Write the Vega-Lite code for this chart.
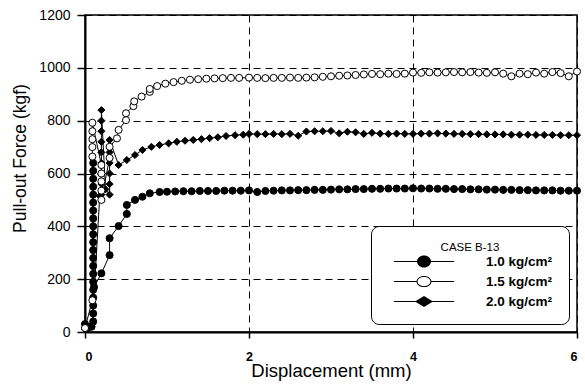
{
"$schema": "https://vega.github.io/schema/vega-lite/v6.json",
"width": 492, "height": 317,
"autosize": {"type": "none"},
"padding": {"left": 85, "top": 15, "right": 8, "bottom": 54},
"background": "white",
"config": {
  "view": {"stroke": "black", "strokeWidth": 1.5},
  "font": "Liberation Sans",
  "axis": {"domainColor": "black", "tickColor": "black", "labelColor": "black", "titleColor": "black", "gridColor": "black", "gridDash": [7, 5], "gridWidth": 1, "gridOpacity": 1, "titleFontWeight": "normal", "titleFont": "Liberation Sans", "labelFont": "Liberation Sans"}
},
"data": {"values": [
{"s":"1.0","i":1,"x":0,"y":30},{"s":"1.0","i":2,"x":0.03,"y":15},{"s":"1.0","i":3,"x":0.08,"y":20},
{"s":"1.0","i":4,"x":0.1,"y":40},{"s":"1.0","i":5,"x":0.1,"y":70},{"s":"1.0","i":6,"x":0.1,"y":100},{"s":"1.0","i":7,"x":0.1,"y":130},{"s":"1.0","i":8,"x":0.1,"y":160},{"s":"1.0","i":9,"x":0.1,"y":190},{"s":"1.0","i":10,"x":0.1,"y":220},{"s":"1.0","i":11,"x":0.1,"y":250},{"s":"1.0","i":12,"x":0.1,"y":280},{"s":"1.0","i":13,"x":0.1,"y":310},{"s":"1.0","i":14,"x":0.1,"y":340},{"s":"1.0","i":15,"x":0.1,"y":370},{"s":"1.0","i":16,"x":0.1,"y":400},{"s":"1.0","i":17,"x":0.1,"y":430},{"s":"1.0","i":18,"x":0.1,"y":460},{"s":"1.0","i":19,"x":0.1,"y":490},{"s":"1.0","i":20,"x":0.1,"y":520},{"s":"1.0","i":21,"x":0.1,"y":550},{"s":"1.0","i":22,"x":0.1,"y":580},{"s":"1.0","i":23,"x":0.1,"y":610},{"s":"1.0","i":24,"x":0.1,"y":640},
{"s":"1.0","i":25,"x":0.11,"y":170},{"s":"1.0","i":26,"x":0.2,"y":222},{"s":"1.0","i":27,"x":0.3,"y":291},{"s":"1.0","i":28,"x":0.3,"y":355},{"s":"1.0","i":29,"x":0.41,"y":401},{"s":"1.0","i":30,"x":0.51,"y":447},{"s":"1.0","i":31,"x":0.51,"y":481},{"s":"1.0","i":32,"x":0.61,"y":500},{"s":"1.0","i":33,"x":0.7,"y":512},{"s":"1.0","i":34,"x":0.79,"y":525},{"s":"1.0","i":35,"x":0.91,"y":530},
{"s":"1.0","i":36,"x":1.0,"y":531},{"s":"1.0","i":37,"x":1.1,"y":532},{"s":"1.0","i":38,"x":1.2,"y":533},{"s":"1.0","i":39,"x":1.3,"y":533},{"s":"1.0","i":40,"x":1.4,"y":534},{"s":"1.0","i":41,"x":1.5,"y":534},{"s":"1.0","i":42,"x":1.6,"y":534},{"s":"1.0","i":43,"x":1.7,"y":535},{"s":"1.0","i":44,"x":1.8,"y":535},{"s":"1.0","i":45,"x":1.9,"y":535},{"s":"1.0","i":46,"x":2.0,"y":536},{"s":"1.0","i":47,"x":2.1,"y":530},{"s":"1.0","i":48,"x":2.2,"y":534},{"s":"1.0","i":49,"x":2.3,"y":535},{"s":"1.0","i":50,"x":2.4,"y":536},{"s":"1.0","i":51,"x":2.5,"y":536},{"s":"1.0","i":52,"x":2.6,"y":537},{"s":"1.0","i":53,"x":2.7,"y":537},{"s":"1.0","i":54,"x":2.8,"y":538},{"s":"1.0","i":55,"x":2.9,"y":538},{"s":"1.0","i":56,"x":3.0,"y":539},{"s":"1.0","i":57,"x":3.1,"y":540},{"s":"1.0","i":58,"x":3.2,"y":540},{"s":"1.0","i":59,"x":3.3,"y":541},{"s":"1.0","i":60,"x":3.4,"y":541},{"s":"1.0","i":61,"x":3.5,"y":542},{"s":"1.0","i":62,"x":3.6,"y":542},{"s":"1.0","i":63,"x":3.7,"y":543},{"s":"1.0","i":64,"x":3.8,"y":543},{"s":"1.0","i":65,"x":3.9,"y":543},{"s":"1.0","i":66,"x":4.0,"y":544},{"s":"1.0","i":67,"x":4.1,"y":543},{"s":"1.0","i":68,"x":4.2,"y":543},{"s":"1.0","i":69,"x":4.3,"y":542},{"s":"1.0","i":70,"x":4.4,"y":542},{"s":"1.0","i":71,"x":4.5,"y":541},{"s":"1.0","i":72,"x":4.6,"y":541},{"s":"1.0","i":73,"x":4.7,"y":540},{"s":"1.0","i":74,"x":4.8,"y":540},{"s":"1.0","i":75,"x":4.9,"y":539},{"s":"1.0","i":76,"x":5.0,"y":539},{"s":"1.0","i":77,"x":5.1,"y":538},{"s":"1.0","i":78,"x":5.2,"y":538},{"s":"1.0","i":79,"x":5.3,"y":537},{"s":"1.0","i":80,"x":5.4,"y":537},{"s":"1.0","i":81,"x":5.5,"y":536},{"s":"1.0","i":82,"x":5.6,"y":536},{"s":"1.0","i":83,"x":5.7,"y":536},{"s":"1.0","i":84,"x":5.8,"y":535},{"s":"1.0","i":85,"x":5.9,"y":535},{"s":"1.0","i":86,"x":6.0,"y":535},

{"s":"1.5","i":1,"x":0,"y":15},{"s":"1.5","i":2,"x":0.09,"y":120},{"s":"1.5","i":3,"x":0.09,"y":664},{"s":"1.5","i":4,"x":0.09,"y":700},{"s":"1.5","i":5,"x":0.09,"y":730},{"s":"1.5","i":6,"x":0.09,"y":760},{"s":"1.5","i":7,"x":0.09,"y":792},
{"s":"1.5","i":8,"x":0.2,"y":632},{"s":"1.5","i":9,"x":0.2,"y":600},{"s":"1.5","i":10,"x":0.2,"y":570},{"s":"1.5","i":11,"x":0.2,"y":535},{"s":"1.5","i":12,"x":0.2,"y":500},
{"s":"1.5","i":13,"x":0.3,"y":659},{"s":"1.5","i":14,"x":0.3,"y":701},{"s":"1.5","i":15,"x":0.39,"y":733},{"s":"1.5","i":16,"x":0.41,"y":765},{"s":"1.5","i":17,"x":0.5,"y":802},{"s":"1.5","i":18,"x":0.5,"y":828},{"s":"1.5","i":19,"x":0.59,"y":855},{"s":"1.5","i":20,"x":0.6,"y":873},{"s":"1.5","i":21,"x":0.69,"y":891},{"s":"1.5","i":22,"x":0.79,"y":909},{"s":"1.5","i":23,"x":0.79,"y":920},{"s":"1.5","i":24,"x":0.88,"y":931},{"s":"1.5","i":25,"x":0.98,"y":940},{"s":"1.5","i":26,"x":1.08,"y":946},{"s":"1.5","i":27,"x":1.18,"y":951},{"s":"1.5","i":28,"x":1.28,"y":955},{"s":"1.5","i":29,"x":1.38,"y":957},{"s":"1.5","i":30,"x":1.48,"y":959},{"s":"1.5","i":31,"x":1.58,"y":960},{"s":"1.5","i":32,"x":1.68,"y":961},{"s":"1.5","i":33,"x":1.78,"y":962},{"s":"1.5","i":34,"x":1.88,"y":962},
{"s":"1.5","i":35,"x":2.0,"y":963},{"s":"1.5","i":36,"x":2.1,"y":962},{"s":"1.5","i":37,"x":2.2,"y":961},{"s":"1.5","i":38,"x":2.3,"y":962},{"s":"1.5","i":39,"x":2.4,"y":962},{"s":"1.5","i":40,"x":2.5,"y":963},{"s":"1.5","i":41,"x":2.6,"y":962},{"s":"1.5","i":42,"x":2.7,"y":963},{"s":"1.5","i":43,"x":2.8,"y":964},{"s":"1.5","i":44,"x":2.9,"y":966},{"s":"1.5","i":45,"x":3.0,"y":968},{"s":"1.5","i":46,"x":3.1,"y":970},{"s":"1.5","i":47,"x":3.2,"y":971},{"s":"1.5","i":48,"x":3.3,"y":973},{"s":"1.5","i":49,"x":3.4,"y":975},{"s":"1.5","i":50,"x":3.5,"y":977},{"s":"1.5","i":51,"x":3.6,"y":976},{"s":"1.5","i":52,"x":3.7,"y":978},{"s":"1.5","i":53,"x":3.8,"y":977},{"s":"1.5","i":54,"x":3.9,"y":978},{"s":"1.5","i":55,"x":4.0,"y":982},{"s":"1.5","i":56,"x":4.1,"y":981},{"s":"1.5","i":57,"x":4.2,"y":983},{"s":"1.5","i":58,"x":4.3,"y":982},{"s":"1.5","i":59,"x":4.4,"y":983},{"s":"1.5","i":60,"x":4.5,"y":984},{"s":"1.5","i":61,"x":4.6,"y":983},{"s":"1.5","i":62,"x":4.7,"y":984},{"s":"1.5","i":63,"x":4.8,"y":982},{"s":"1.5","i":64,"x":4.9,"y":981},{"s":"1.5","i":65,"x":5.0,"y":983},{"s":"1.5","i":66,"x":5.1,"y":978},{"s":"1.5","i":67,"x":5.2,"y":968},{"s":"1.5","i":68,"x":5.3,"y":978},{"s":"1.5","i":69,"x":5.4,"y":976},{"s":"1.5","i":70,"x":5.5,"y":982},{"s":"1.5","i":71,"x":5.6,"y":978},{"s":"1.5","i":72,"x":5.7,"y":984},{"s":"1.5","i":73,"x":5.8,"y":980},{"s":"1.5","i":74,"x":5.9,"y":968},{"s":"1.5","i":75,"x":6.0,"y":986},

{"s":"2.0","i":1,"x":0,"y":10},{"s":"2.0","i":2,"x":0.09,"y":30},{"s":"2.0","i":3,"x":0.18,"y":515},
{"s":"2.0","i":4,"x":0.2,"y":520},{"s":"2.0","i":5,"x":0.2,"y":560},{"s":"2.0","i":6,"x":0.2,"y":600},{"s":"2.0","i":7,"x":0.2,"y":640},{"s":"2.0","i":8,"x":0.2,"y":680},{"s":"2.0","i":9,"x":0.2,"y":720},{"s":"2.0","i":10,"x":0.2,"y":760},{"s":"2.0","i":11,"x":0.2,"y":800},{"s":"2.0","i":12,"x":0.2,"y":840},
{"s":"2.0","i":13,"x":0.25,"y":540},
{"s":"2.0","i":14,"x":0.3,"y":520},{"s":"2.0","i":15,"x":0.3,"y":560},{"s":"2.0","i":16,"x":0.3,"y":600},{"s":"2.0","i":17,"x":0.3,"y":640},{"s":"2.0","i":18,"x":0.3,"y":680},{"s":"2.0","i":19,"x":0.3,"y":727},
{"s":"2.0","i":20,"x":0.41,"y":632},{"s":"2.0","i":21,"x":0.51,"y":651},{"s":"2.0","i":22,"x":0.61,"y":670},{"s":"2.0","i":23,"x":0.7,"y":689},{"s":"2.0","i":24,"x":0.81,"y":701},{"s":"2.0","i":25,"x":0.91,"y":708},{"s":"2.0","i":26,"x":1.02,"y":714},{"s":"2.0","i":27,"x":1.12,"y":720},{"s":"2.0","i":28,"x":1.22,"y":724},{"s":"2.0","i":29,"x":1.32,"y":727},{"s":"2.0","i":30,"x":1.42,"y":730},{"s":"2.0","i":31,"x":1.52,"y":734},{"s":"2.0","i":32,"x":1.62,"y":737},{"s":"2.0","i":33,"x":1.72,"y":742},{"s":"2.0","i":34,"x":1.83,"y":745},{"s":"2.0","i":35,"x":1.93,"y":747},
{"s":"2.0","i":36,"x":2.0,"y":750},{"s":"2.0","i":37,"x":2.1,"y":749},{"s":"2.0","i":38,"x":2.2,"y":749},{"s":"2.0","i":39,"x":2.3,"y":750},{"s":"2.0","i":40,"x":2.4,"y":749},{"s":"2.0","i":41,"x":2.5,"y":750},{"s":"2.0","i":42,"x":2.6,"y":743},{"s":"2.0","i":43,"x":2.7,"y":759},{"s":"2.0","i":44,"x":2.8,"y":760},{"s":"2.0","i":45,"x":2.9,"y":760},{"s":"2.0","i":46,"x":3.0,"y":761},{"s":"2.0","i":47,"x":3.1,"y":752},{"s":"2.0","i":48,"x":3.2,"y":758},{"s":"2.0","i":49,"x":3.3,"y":756},{"s":"2.0","i":50,"x":3.4,"y":750},{"s":"2.0","i":51,"x":3.5,"y":754},{"s":"2.0","i":52,"x":3.6,"y":751},{"s":"2.0","i":53,"x":3.7,"y":750},{"s":"2.0","i":54,"x":3.8,"y":751},{"s":"2.0","i":55,"x":3.9,"y":750},{"s":"2.0","i":56,"x":4.0,"y":750},{"s":"2.0","i":57,"x":4.1,"y":751},{"s":"2.0","i":58,"x":4.2,"y":751},{"s":"2.0","i":59,"x":4.3,"y":752},{"s":"2.0","i":60,"x":4.4,"y":751},{"s":"2.0","i":61,"x":4.5,"y":750},{"s":"2.0","i":62,"x":4.6,"y":750},{"s":"2.0","i":63,"x":4.7,"y":749},{"s":"2.0","i":64,"x":4.8,"y":749},{"s":"2.0","i":65,"x":4.9,"y":748},{"s":"2.0","i":66,"x":5.0,"y":748},{"s":"2.0","i":67,"x":5.1,"y":748},{"s":"2.0","i":68,"x":5.2,"y":747},{"s":"2.0","i":69,"x":5.3,"y":747},{"s":"2.0","i":70,"x":5.4,"y":747},{"s":"2.0","i":71,"x":5.5,"y":746},{"s":"2.0","i":72,"x":5.6,"y":746},{"s":"2.0","i":73,"x":5.7,"y":746},{"s":"2.0","i":74,"x":5.8,"y":745},{"s":"2.0","i":75,"x":5.9,"y":745},{"s":"2.0","i":76,"x":6.0,"y":745}
]},
"encoding": {
  "x": {"field": "x", "type": "quantitative", "scale": {"domain": [0, 6], "nice": false},
        "axis": {"values": [0, 2, 4, 6], "format": "d", "grid": true, "tickSize": 6, "tickWidth": 1.5, "domainWidth": 2, "labelPadding": 12, "labelFontSize": 12.5, "labelFontWeight": "bold", "title": "Displacement (mm)", "titleFontSize": 18.5, "titlePadding": -1}},
  "y": {"field": "y", "type": "quantitative", "scale": {"domain": [0, 1200], "nice": false},
        "axis": {"values": [0, 200, 400, 600, 800, 1000, 1200], "format": "d", "grid": true, "tickSize": 8, "tickWidth": 1.5, "domainWidth": 2, "labelPadding": 7, "labelFontSize": 14, "title": "Pull-out Force (kgf)", "titleFontSize": 17.5, "titlePadding": 9, "titleY": 143}}
},
"layer": [
  {"mark": {"type": "line", "color": "black", "strokeWidth": 1},
   "encoding": {"detail": {"field": "s"}, "order": {"field": "i", "type": "quantitative"}}},
  {"transform": [{"filter": "datum.s !== '1.5'"}],
   "mark": {"type": "point", "filled": true, "fill": "black", "stroke": "black", "strokeWidth": 1, "opacity": 1, "size": 50},
   "encoding": {
     "shape": {"field": "s", "type": "nominal", "scale": {"domain": ["1.0", "2.0"], "range": ["circle", "diamond"]}, "legend": null}
   }},
  {"transform": [{"filter": "datum.s === '1.5'"}],
   "mark": {"type": "point", "shape": "circle", "filled": true, "fill": "white", "stroke": "black", "strokeWidth": 1, "opacity": 1, "size": 50}},
  {"transform": [{"filter": "false"}],
   "mark": {"type": "point", "filled": true, "fill": "black", "strokeWidth": 0, "opacity": 1, "size": 196},
   "encoding": {
     "shape": {"field": "s", "type": "nominal",
       "scale": {"domain": ["1.0", "1.5", "2.0"], "range": [
         "M-4.3,-0.07H-0.95V0.07H-4.3Z M0.95,-0.07H4.3V0.07H0.95Z M-1,0A1,0.86,0,1,1,1,0A1,0.86,0,1,1,-1,0Z",
         "M-4.3,-0.07H-1.05V0.07H-4.3Z M1.05,-0.07H4.3V0.07H1.05Z M-1.07,0A1.07,0.8,0,1,1,1.07,0A1.07,0.8,0,1,1,-1.07,0Z M-0.92,0A0.92,0.65,0,1,0,0.92,0A0.92,0.65,0,1,0,-0.92,0Z",
         "M-4.3,-0.07H-1.2V0.07H-4.3Z M1.2,-0.07H4.3V0.07H1.2Z M-1.29,0L0,-0.79L1.29,0L0,0.79Z"]},
       "legend": {"title": "CASE B-13", "orient": "bottom-right", "offset": 8, "titleAnchor": "middle", "titleFontSize": 11.5, "titleFontWeight": "normal", "titlePadding": 1,
         "labelFontSize": 13.5, "labelFontWeight": "bold", "labelExpr": "datum.label + ' kg/cm²'", "labelOffset": 55, "symbolOffset": 30, "rowPadding": 6, "symbolSize": 196,
         "strokeColor": "black", "fillColor": "white", "cornerRadius": 8, "padding": 16, "symbolStrokeWidth": 0, "symbolFillColor": "black"}}
   }}
],
"resolve": {"scale": {"shape": "independent"}, "legend": {"shape": "independent"}}
}
